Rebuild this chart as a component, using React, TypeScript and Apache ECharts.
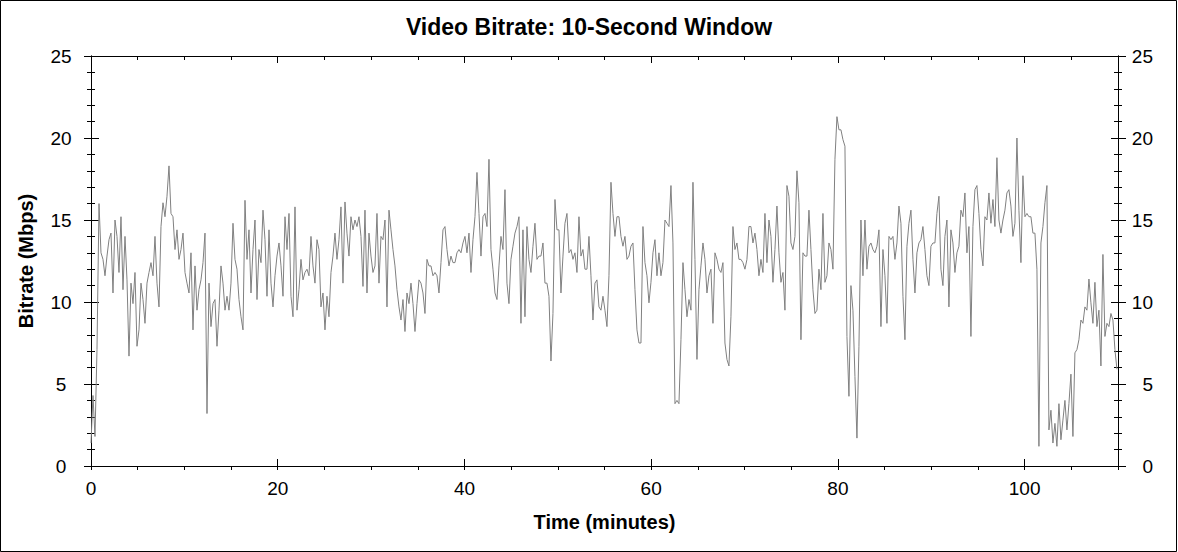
import { useEffect, useRef } from "react";
import * as echarts from "echarts";

// one sample every ~12.9 s (10-second window, as plotted)
const SAMPLE_MIN = 0.2142;

// bitrate in Mbps, minute 0 onwards
const BITRATE_MBPS = [
  // 0 - 14 min
  1.4, 4.3, 1.8, 7.1, 16.0, 13.0, 12.6, 11.6, 12.8, 13.8,
  14.2, 10.55, 15.0, 14.0, 11.8, 15.2, 10.75, 14.0, 11.35, 6.7,
  11.15, 9.9, 11.8, 7.3, 8.3, 11.15, 10.15, 8.7, 11.15, 11.8,
  12.4, 11.6, 14.0, 11.15, 9.7, 14.6, 16.05, 15.2, 16.45, 18.3,
  15.4, 15.2, 13.2, 14.4, 12.6, 13.2, 14.2, 11.8, 11.15, 10.55,
  13.0, 8.3, 12.2, 9.5, 10.75, 11.35, 12.4, 14.2, 3.2, 11.15,
  8.5, 9.9, 10.15, 7.3, 9.5, 12.2,
  // 14 - 28 min
  11.15, 9.5, 10.35, 9.5, 11.15, 14.8, 12.6, 12.0, 10.15, 9.1,
  8.3, 16.2, 12.6, 14.4, 10.55, 13.2, 15.0, 10.15, 13.2, 12.4,
  15.6, 13.8, 10.35, 14.4, 11.15, 9.7, 11.6, 12.8, 13.6, 12.2,
  10.35, 15.2, 13.2, 15.4, 10.35, 9.1, 15.8, 9.5, 10.75, 12.6,
  11.35, 11.8, 12.0, 11.6, 14.0, 12.2, 11.15, 13.8, 13.2, 9.7,
  10.55, 8.3, 10.35, 9.1, 11.8, 12.8, 14.2, 12.6, 13.8, 15.8,
  11.15, 16.1, 14.2, 12.8, 15.2, 14.4,
  // 28 - 42 min
  15.0, 14.6, 15.2, 14.0, 10.95, 15.6, 10.55, 14.2, 12.8, 11.8,
  12.2, 15.4, 11.15, 14.0, 13.8, 15.0, 9.7, 15.6, 14.4, 13.2,
  12.2, 10.75, 9.7, 8.9, 10.15, 8.2, 10.55, 9.9, 11.15, 9.9,
  8.2, 9.9, 11.35, 11.15, 10.55, 9.3, 12.6, 12.2, 12.2, 11.6,
  11.8, 11.6, 10.55, 12.4, 14.4, 14.6, 13.2, 12.2, 12.8, 12.4,
  12.4, 13.0, 13.2, 13.0, 13.6, 14.0, 13.0, 14.2, 11.8, 13.8,
  15.2, 17.9, 15.4, 12.8, 15.2, 15.4,
  // 42 - 56.5 min
  14.6, 18.7, 13.2, 12.0, 10.55, 10.15, 12.2, 14.0, 13.2, 16.85,
  11.15, 9.9, 12.6, 13.4, 14.2, 14.6, 15.2, 8.7, 14.4, 9.1,
  14.6, 12.6, 11.8, 13.4, 14.8, 12.6, 12.8, 12.8, 13.6, 11.15,
  11.15, 10.35, 6.4, 9.3, 16.25, 14.4, 14.4, 10.55, 12.8, 14.8,
  15.4, 13.0, 13.2, 12.6, 13.0, 11.8, 15.2, 12.8, 13.2, 12.0,
  12.0, 14.0, 11.6, 8.9, 11.15, 11.35, 9.7, 9.5, 10.35, 9.5,
  8.5, 11.6, 17.3, 15.4, 14.0, 15.2,
  // 56.5 - 70.5 min
  15.2, 14.0, 13.4, 14.0, 12.6, 12.8, 13.4, 13.6, 10.75, 8.3,
  7.5, 7.5, 14.6, 12.4, 11.6, 9.95, 11.2, 13.0, 13.8, 11.6,
  13.0, 11.6, 12.4, 15.0, 14.8, 14.6, 17.1, 13.6, 3.8, 4.0,
  3.8, 7.7, 12.4, 10.75, 9.1, 10.15, 9.5, 17.3, 12.6, 6.5,
  10.75, 12.2, 13.6, 12.6, 10.55, 11.6, 12.0, 8.7, 13.0, 12.6,
  12.0, 11.8, 12.4, 7.5, 6.5, 6.1, 9.1, 14.6, 13.2, 13.6,
  12.6, 12.6, 12.4, 12.0, 12.6, 14.6,
  // 70.5 - 84.5 min
  14.6, 13.6, 14.2, 13.2, 11.6, 12.6, 11.8, 15.4, 12.4, 15.0,
  14.0, 11.2, 13.2, 15.85, 13.0, 11.2, 11.8, 9.5, 17.1, 16.45,
  13.6, 13.2, 14.0, 18.0, 16.05, 7.7, 13.0, 12.8, 12.8, 15.6,
  13.2, 10.75, 9.3, 9.5, 12.0, 10.75, 15.4, 11.2, 11.6, 13.6,
  13.2, 12.0, 18.7, 21.3, 20.5, 20.5, 19.9, 19.5, 7.9, 4.25,
  11.0, 9.5, 5.45, 1.7, 7.3, 15.0, 11.6, 15.0, 12.0, 13.4,
  13.6, 13.2, 13.0, 13.4, 14.4, 8.5,
  // 84.5 - 99 min
  13.2, 11.6, 8.7, 14.0, 13.8, 14.0, 12.6, 13.6, 15.85, 14.8,
  10.35, 7.7, 13.4, 14.8, 15.6, 12.6, 10.55, 13.0, 13.6, 13.8,
  14.6, 13.2, 11.6, 11.0, 13.4, 13.6, 13.6, 15.4, 16.45, 12.0,
  11.0, 14.0, 15.0, 9.7, 14.4, 13.6, 11.8, 13.0, 13.4, 15.6,
  15.2, 16.65, 13.0, 14.6, 7.9, 14.6, 16.85, 17.1, 15.4, 13.2,
  12.2, 15.2, 15.0, 16.65, 14.8, 16.25, 14.6, 18.8, 15.0, 14.2,
  15.0, 15.6, 16.65, 16.85, 15.85, 14.0,
  // 99 - end
  14.8, 20.0, 15.6, 12.4, 17.7, 15.2, 15.4, 15.2, 15.2, 14.2,
  14.2, 12.0, 1.2, 13.6, 14.6, 16.05, 17.1, 2.2, 3.4, 1.4,
  2.6, 1.2, 3.8, 1.6, 2.8, 4.0, 2.2, 3.8, 5.6, 1.8,
  6.9, 7.1, 7.7, 8.9, 8.7, 9.7, 9.5, 11.4, 9.95, 8.7,
  11.2, 8.5, 9.5, 6.1, 12.9, 7.9, 8.7, 8.5, 9.3, 8.9,
  7.1, 5.9,
];

const X_MAX = 110;
const X_LABEL_STEP = 20;
const X_MINOR_STEP = 5;
const Y_MAX = 25;
const Y_STEP = 5;

const FONT = "Arial, 'Liberation Sans', sans-serif";
const INK = "#000";

function xAxisBase(position: "bottom" | "top") {
  return {
    type: "value",
    position,
    min: 0,
    max: X_MAX,
    axisLine: { show: true, onZero: false, lineStyle: { color: INK, width: 1 } },
    splitLine: { show: false },
    axisLabel: { show: false },
  };
}

function yAxisBase(position: "left" | "right") {
  return {
    type: "value",
    position,
    min: 0,
    max: Y_MAX,
    interval: Y_STEP,
    axisLine: { show: true, onZero: false, lineStyle: { color: INK, width: 1 } },
    splitLine: { show: false },
    axisLabel: { show: false },
    minorTick: { show: true, splitNumber: 5, length: 4, lineStyle: { color: INK } },
  };
}

export default function App() {
  const chartRef = useRef<HTMLDivElement | null>(null);

  useEffect(() => {
    if (!chartRef.current) return;
    const chart = echarts.init(chartRef.current, undefined, { renderer: "svg" });
    const labelStyle = { color: INK, fontFamily: FONT, fontSize: 19 };
    const nameStyle = { color: INK, fontFamily: FONT, fontSize: 20, fontWeight: "bold" };

    chart.setOption({
      animation: false,
      backgroundColor: "#fff",
      title: {
        text: "Video Bitrate: 10-Second Window",
        left: "center",
        top: 10,
        textStyle: { color: INK, fontFamily: FONT, fontSize: 23, fontWeight: "bold" },
      },
      grid: { left: 91, right: 60, top: 56, bottom: 86, containLabel: false },
      xAxis: [
        {
          ...xAxisBase("bottom"),
          interval: X_MINOR_STEP,
          name: "Time (minutes)",
          nameLocation: "middle",
          nameGap: 46,
          nameTextStyle: nameStyle,
          axisTick: { show: true, inside: false, length: 4, lineStyle: { color: INK } },
          axisLabel: {
            show: true,
            margin: 13,
            ...labelStyle,
            formatter: (v: number) => (v % X_LABEL_STEP === 0 && v < X_MAX ? String(v) : ""),
          },
        },
        {
          ...xAxisBase("bottom"),
          interval: X_LABEL_STEP,
          axisTick: { show: true, inside: true, length: 7, lineStyle: { color: INK } },
        },
        {
          ...xAxisBase("top"),
          interval: X_MINOR_STEP,
          axisTick: { show: true, inside: true, length: 4, lineStyle: { color: INK } },
        },
        {
          ...xAxisBase("top"),
          interval: X_LABEL_STEP,
          axisTick: { show: true, inside: true, length: 7, lineStyle: { color: INK } },
        },
      ],
      yAxis: [
        {
          ...yAxisBase("left"),
          name: "Bitrate (Mbps)",
          nameLocation: "middle",
          nameGap: 55,
          nameTextStyle: nameStyle,
          axisTick: { show: true, inside: false, length: 7, lineStyle: { color: INK } },
          axisLabel: { show: true, margin: 30, align: "center", ...labelStyle },
        },
        {
          ...yAxisBase("left"),
          axisTick: { show: true, inside: true, length: 8, lineStyle: { color: INK } },
        },
        {
          ...yAxisBase("right"),
          axisTick: { show: true, inside: false, length: 8, lineStyle: { color: INK } },
          axisLabel: { show: true, margin: 35, align: "right", ...labelStyle },
        },
        {
          ...yAxisBase("right"),
          axisTick: { show: true, inside: true, length: 7, lineStyle: { color: INK } },
        },
      ],
      series: [
        {
          name: "Video bitrate",
          type: "line",
          xAxisIndex: 0,
          yAxisIndex: 0,
          showSymbol: false,
          lineStyle: { color: "#808080", width: 1 },
          itemStyle: { color: "#808080" },
          data: BITRATE_MBPS.map((v, i) => [i * SAMPLE_MIN, v]),
        },
      ],
      graphic: [
        {
          type: "rect",
          silent: true,
          z: 100,
          shape: { x: 0.5, y: 0.5, width: 1176, height: 551 },
          style: { fill: "none", stroke: INK, lineWidth: 1 },
        },
      ],
    });

    return () => {
      chart.dispose();
    };
  }, []);

  return (
    <div
      ref={chartRef}
      style={{ position: "absolute", left: 0, top: 0, width: 1178, height: 552, background: "#fff" }}
    />
  );
}
